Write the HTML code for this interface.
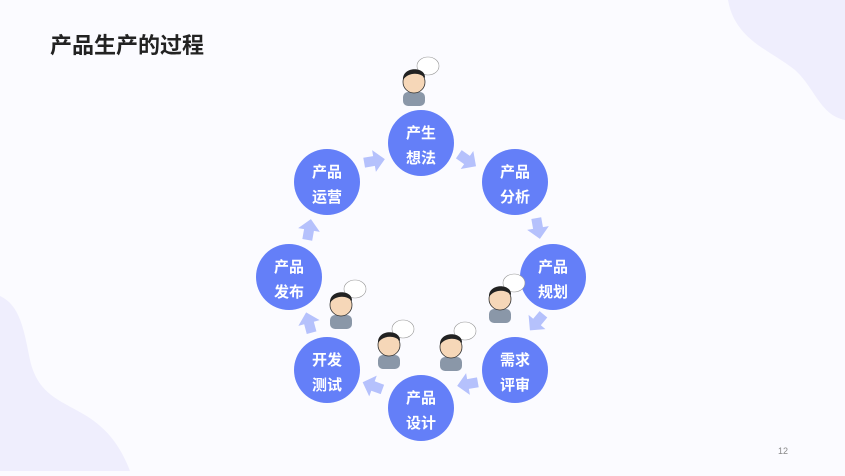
<!DOCTYPE html>
<html><head><meta charset="utf-8"><style>
html,body{margin:0;padding:0}
body{width:845px;height:471px;overflow:hidden;background:#fbfbff;font-family:"Liberation Sans","Noto Sans CJK SC",sans-serif}
</style></head><body>
<svg width="845" height="471" viewBox="0 0 845 471" xmlns="http://www.w3.org/2000/svg">
<rect width="845" height="471" fill="#fbfbff"/>
<path d="M728,0 C735,40 770,50 795,70 C815,88 820,115 845,120 L845,0 Z" fill="#efeefd"/>
<path d="M0,296 C20,305 24,330 30,360 C38,395 60,400 85,415 C110,430 122,450 130,471 L0,471 Z" fill="#efeefd"/>
<text x="50" y="53" font-size="22" font-weight="bold" fill="#222" font-family="Liberation Sans,Noto Sans CJK SC,sans-serif">产品生产的过程</text>
<text x="778" y="454" font-size="9" fill="#888">12</text>
<defs>
<polygon id="ar" points="-10,-5 0,-5 0,-11 11,0 0,11 0,5 -10,5" fill="#b5c1fc"/>
<g id="fig">
<ellipse cx="14" cy="-14" rx="11" ry="9" fill="#fff" stroke="#999" stroke-width="0.6"/>
<rect x="-11" y="12" width="22" height="14" rx="5" fill="#8a97a8"/>
<circle cx="0" cy="2" r="11" fill="#f6d7b8" stroke="#333" stroke-width="0.8"/>
<path d="M-11,0 C-12,-14 12,-14 11,-2 C6,-8 -6,-8 -11,0Z" fill="#222"/>
</g>
</defs>
<g>
<use href="#ar" transform="translate(374,161) rotate(-10)"/>
<use href="#ar" transform="translate(467,160) rotate(35)"/>
<use href="#ar" transform="translate(538,228) rotate(80)"/>
<use href="#ar" transform="translate(537,322) rotate(130)"/>
<use href="#ar" transform="translate(468,384) rotate(170)"/>
<use href="#ar" transform="translate(373,386) rotate(200)"/>
<use href="#ar" transform="translate(309,323) rotate(-105)"/>
<use href="#ar" transform="translate(309,230) rotate(-80)"/>
</g>
<g fill="#647ff8">
<circle cx="421" cy="143" r="33"/>
<circle cx="515" cy="182" r="33"/>
<circle cx="553" cy="277" r="33"/>
<circle cx="515" cy="370" r="33"/>
<circle cx="421" cy="408" r="33"/>
<circle cx="327" cy="370" r="33"/>
<circle cx="289" cy="277" r="33"/>
<circle cx="327" cy="182" r="33"/>
</g>
<g fill="#fff" font-size="15" font-weight="bold" text-anchor="middle" font-family="Liberation Sans,Noto Sans CJK SC,sans-serif">
<text x="421" y="138">产生</text><text x="421" y="163">想法</text>
<text x="515" y="177">产品</text><text x="515" y="202">分析</text>
<text x="553" y="272">产品</text><text x="553" y="297">规划</text>
<text x="515" y="365">需求</text><text x="515" y="390">评审</text>
<text x="421" y="403">产品</text><text x="421" y="428">设计</text>
<text x="327" y="365">开发</text><text x="327" y="390">测试</text>
<text x="289" y="272">产品</text><text x="289" y="297">发布</text>
<text x="327" y="177">产品</text><text x="327" y="202">运营</text>
</g>
<use href="#fig" x="414" y="80"/>
<use href="#fig" x="341" y="303"/>
<use href="#fig" x="389" y="343"/>
<use href="#fig" x="451" y="345"/>
<use href="#fig" x="500" y="297"/>
</svg>
</body></html>
